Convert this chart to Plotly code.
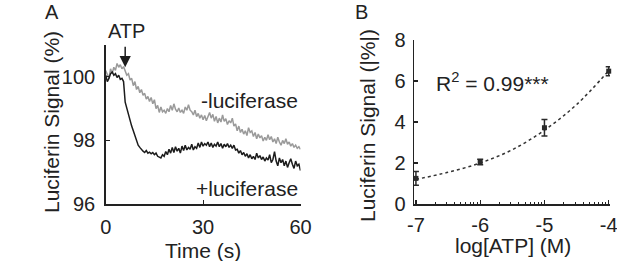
import numpy as np
import plotly.graph_objects as go

# ---------------- Panel A data ----------------
plus_luciferase = [
    100.05, 99.85, 99.95, 100.10, 100.15, 100.05, 100.10, 99.98, 100.05, 99.92, 99.95, 99.85,
    99.20, 99.00, 98.80, 98.60, 98.45, 98.30, 98.15, 98.00, 97.85, 97.78, 97.70, 97.66, 97.62,
    97.68, 97.60, 97.63, 97.58, 97.62, 97.55, 97.60, 97.50, 97.47, 97.45, 97.55, 97.50,
    97.65, 97.55, 97.72, 97.60, 97.78, 97.62, 97.80, 97.66, 97.75, 97.60, 97.82, 97.68,
    97.85, 97.70, 97.78, 97.72, 97.88, 97.70, 97.80, 97.75, 97.92, 97.78, 97.95, 97.82,
    97.90, 97.85, 97.95, 97.80, 97.92, 97.78, 97.88, 97.82, 97.95, 97.80, 97.90, 97.75,
    97.88, 97.80, 97.90, 97.78, 97.85, 97.75, 97.85, 97.70, 97.72, 97.60, 97.68, 97.55,
    97.62, 97.50, 97.58, 97.45, 97.55, 97.42, 97.50, 97.40, 97.60, 97.45, 97.52, 97.40,
    97.48, 97.35, 97.45, 97.38, 97.55, 97.30, 97.40, 97.65, 97.35, 97.20, 97.45, 97.30,
    97.40, 97.20, 97.35, 97.15, 97.30, 97.42, 97.25, 97.12, 97.35, 97.20, 97.25, 97.05,
]
minus_luciferase = [
    100.20, 100.05, 99.95, 100.25, 100.10, 100.30, 100.20, 100.42, 100.30, 100.38, 100.25, 100.32,
    100.15, 100.05, 100.10, 99.90, 99.95, 99.72, 99.85, 99.60, 99.70, 99.50, 99.60, 99.42,
    99.48, 99.30, 99.38, 99.22, 99.35, 99.15, 99.28, 99.00, 99.10, 98.88, 99.05, 98.90,
    98.95, 98.85, 99.00, 98.90, 99.10, 98.95, 99.15, 98.98, 98.90, 99.02, 98.88, 98.95,
    98.85, 99.05, 98.95, 99.12, 98.95, 98.90, 98.80, 98.95, 98.75, 98.85, 98.70, 98.80,
    98.65, 98.78, 98.62, 98.75, 98.88, 98.70, 98.82, 98.60, 98.75, 98.55, 98.70, 98.58,
    98.80, 98.60, 98.68, 98.50, 98.62, 98.55, 98.70, 98.45, 98.52, 98.30, 98.45, 98.25,
    98.35, 98.20, 98.30, 98.15, 98.40, 98.25, 98.30, 98.12, 98.25, 98.05, 98.20, 98.08,
    98.15, 97.98, 98.10, 98.00, 98.18, 98.02, 98.12, 97.95, 98.05, 97.90, 98.10, 97.95,
    97.85, 98.00, 97.90, 98.05, 97.88, 97.95, 97.82, 97.90, 97.78, 97.85, 97.75, 97.80, 97.72,
]
sample_interval_s = 0.5
time_s = [i * sample_interval_s for i in range(len(plus_luciferase))]
time_s_minus = [i * sample_interval_s for i in range(len(minus_luciferase))]

a_xticks = [0, 30, 60]
a_yticks = [96, 98, 100]

# ---------------- Panel B data ----------------
log_atp = [-7, -6, -5, -4]
signal_abs = [1.25, 2.05, 3.72, 6.48]
signal_err = [0.33, 0.13, 0.40, 0.22]
fit_x = [-7.0, -6.5, -6.0, -5.5, -5.0, -4.5, -4.0]
fit_y = [1.20, 1.55, 2.00, 2.65, 3.60, 4.85, 6.50]
b_xticks = [-7, -6, -5, -4]
b_yticks = [0, 2, 4, 6, 8]
b_minor = [d + float(np.log10(k)) for d in [-7, -6, -5] for k in range(2, 10)]

W, H = 617, 261
FONT = "Liberation Sans, Arial, sans-serif"
TXT = "#222222"

fig = go.Figure()

fig.add_trace(go.Scatter(x=time_s_minus, y=minus_luciferase, mode="lines",
                         line=dict(color="#9a9a9a", width=1.5), xaxis="x", yaxis="y",
                         showlegend=False))
fig.add_trace(go.Scatter(x=time_s, y=plus_luciferase, mode="lines",
                         line=dict(color="#1c1c1c", width=1.5), xaxis="x", yaxis="y",
                         showlegend=False))

fig.add_trace(go.Scatter(x=fit_x, y=fit_y, mode="lines",
                         line=dict(color="#333333", width=1.5, dash="dot", shape="spline"),
                         xaxis="x2", yaxis="y2", showlegend=False))
fig.add_trace(go.Scatter(x=log_atp, y=signal_abs, mode="markers",
                         marker=dict(symbol="square", size=5, color="#2a2a2a"),
                         error_y=dict(type="data", array=signal_err, color="#2a2a2a",
                                      thickness=1.5, width=3),
                         xaxis="x2", yaxis="y2", showlegend=False, cliponaxis=False))

axis_common = dict(showline=True, linecolor="#222222", linewidth=1.5, showgrid=False,
                   zeroline=False, ticks="inside", ticklen=4, tickwidth=1.2,
                   automargin=False, ticklabeloverflow="allow",
                   tickcolor="#222222", tickfont=dict(family=FONT, size=20, color=TXT))

fig.update_layout(
    width=W, height=H,
    margin=dict(l=0, r=0, t=0, b=0),
    paper_bgcolor="white", plot_bgcolor="white",
    xaxis=dict(domain=[105.7 / W, 300.5 / W], range=[0, 60], tickvals=a_xticks,
               anchor="y", ticklabelstandoff=4, **axis_common),
    yaxis=dict(domain=[57 / H, 216 / H], range=[96, 101], tickvals=a_yticks,
               anchor="x", ticklabelstandoff=5, **axis_common),
    xaxis2=dict(domain=[414 / W, 610 / W], range=[-7.03, -3.98], tickvals=b_xticks,
                ticktext=[str(v) for v in b_xticks], anchor="y2", ticklabelstandoff=2,
                minor=dict(tickvals=b_minor, ticks="inside", ticklen=2, tickwidth=1,
                           tickcolor="#222222", showgrid=False),
                **axis_common),
    yaxis2=dict(domain=[57 / H, 221 / H], range=[0, 8], tickvals=b_yticks,
                anchor="x2", ticklabelstandoff=3, **axis_common),
)

ann = []
def add_text(x, y, text, size=21, angle=0, xanchor="center"):
    ann.append(dict(x=x / W, y=1 - y / H, xref="paper", yref="paper", text=text,
                    showarrow=False, textangle=angle, xanchor=xanchor, yanchor="middle",
                    font=dict(family=FONT, size=size, color=TXT)))

add_text(52, 12, "A", size=20)
add_text(361, 12, "B", size=20)
add_text(52, 122, "Luciferin Signal (%)", angle=-90)
add_text(367, 126, "Luciferin Signal (|%|)", angle=-90)
add_text(203, 250, "Time (s)")
add_text(513, 245, "log[ATP] (M)")
add_text(300, 100, "-luciferase", xanchor="right")
add_text(300, 188, "+luciferase", xanchor="right")
add_text(493, 82, "R<sup>2</sup> = 0.99***")
add_text(126, 31, "ATP", size=20)

ann.append(dict(x=6.0, y=100.3, xref="x", yref="y", ax=0, ay=-22, text="",
                showarrow=True, arrowhead=2, arrowsize=1.5, arrowwidth=1.5,
                arrowcolor="#1c1c1c"))

fig.update_layout(annotations=ann)

fig.write_html("out.html", config={"displayModeBar": False, "staticPlot": True},
               post_script="document.body.style.margin='0';document.body.style.overflow='hidden';")
